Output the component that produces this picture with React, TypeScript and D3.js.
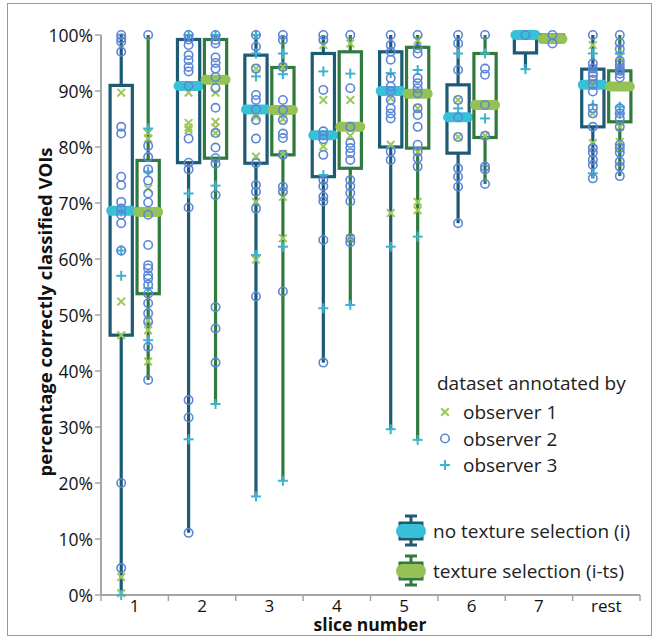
import React from "react";
import * as d3 from "d3";

// slice categories on the x axis
const categories = ["1", "2", "3", "4", "5", "6", "7", "rest"];
const yTicks = [0, 10, 20, 30, 40, 50, 60, 70, 80, 90, 100];

// box statistics, no texture selection (i)
const iMin = [0, 11.1, 17.6, 41.5, 29.6, 66.4, 93.9, 74.4];
const iQ1 = [46.4, 77.2, 77.1, 74.7, 80.0, 78.9, 96.8, 83.6];
const iMedian = [68.6, 90.9, 86.7, 82.1, 90.0, 85.3, 100, 91.1];
const iQ3 = [91.0, 99.2, 96.4, 96.7, 97.0, 91.1, 100, 93.9];
const iMax = [100, 100, 100, 100, 100, 100, 100, 100];

// box statistics, texture selection (i-ts)
const tsMin = [38.4, 34.1, 20.4, 51.8, 27.7, 73.4, 98.5, 74.8];
const tsQ1 = [53.8, 78.0, 78.6, 76.2, 79.8, 81.7, 98.8, 84.5];
const tsMedian = [68.4, 92.0, 86.6, 83.6, 89.5, 87.5, 99.3, 90.8];
const tsQ3 = [77.6, 99.2, 94.2, 97.0, 97.8, 96.7, 100, 93.6];
const tsMax = [100, 100, 100, 100, 100, 100, 100, 100];

// single results per observer (i)
const iObs1 = [
  [89.7, 52.4, 46.4, 3.2, 0.3],
  [89.7, 84.3, 83.5, 83.0],
  [94.0, 85.4, 78.3, 70.2, 59.9],
  [98.2, 88.4, 80.1],
  [88.7, 80.4, 68.2],
  [88.4, 81.8],
  [],
  [98.2, 91.5, 86.0, 80.7],
];
const iObs2 = [
  [100, 99.4, 98.8, 97.0, 83.6, 82.4, 74.7, 73.2, 70.2, 69.0, 67.9, 66.4, 61.5, 20.0, 4.8],
  [100, 99.2, 98.2, 96.4, 95.5, 94.3, 93.5, 90.9, 81.5, 77.2, 76.0, 69.2, 34.8, 31.7, 11.1],
  [100, 97.9, 94.0, 89.3, 88.4, 86.7, 84.8, 81.5, 77.1, 73.2, 72.0, 69.0, 53.3],
  [100, 99.1, 90.2, 82.8, 82.1, 81.4, 78.6, 74.1, 73.0, 71.1, 70.3, 63.4, 41.5],
  [100, 98.2, 97.0, 95.6, 92.3, 90.8, 90.0, 88.4, 86.9, 86.0, 85.1, 79.2, 77.7],
  [100, 98.5, 93.75, 88.4, 85.3, 81.8, 76.2, 74.7, 72.9, 66.4],
  [100],
  [100, 94.9, 94.0, 93.2, 92.7, 92.0, 91.1, 89.9, 86.9, 86.0, 83.6, 79.8, 79.0, 77.7, 76.8, 74.4],
];
const iObs3 = [
  [68.5, 61.5, 57.0, 0],
  [100, 71.7, 27.8],
  [100, 96.7, 92.6, 60.7, 17.6],
  [93.5, 75.0, 51.2],
  [93.2, 62.2, 29.6],
  [96.7, 86.9],
  [93.9],
  [96.7, 87.5, 75.3],
];

// single results per observer (i-ts)
const tsObs1 = [
  [82.5, 81.5, 72.6, 49.0, 47.3, 41.7],
  [92.0, 89.7, 84.5, 83.5, 82.5],
  [94.3, 85.0, 78.8, 71.1, 63.7],
  [98.5, 88.4, 82.0, 63.7],
  [99.1, 86.9, 79.1, 70.2, 68.7],
  [87.5, 82.0],
  [],
  [96.1, 83.6, 80.9],
];
const tsObs2 = [
  [100, 80.2, 78.2, 76.0, 74.0, 71.7, 70.1, 67.9, 62.5, 58.9, 58.3, 57.1, 56.5, 55.4, 53.8, 52.1, 50.3, 48.8, 44.3, 38.4],
  [100, 99.1, 98.5, 96.0, 95.0, 94.0, 92.5, 90.5, 87.0, 82.5, 79.9, 78.0, 77.0, 71.4, 51.4, 47.6, 41.5],
  [100, 99.1, 94.3, 88.4, 86.6, 84.8, 82.4, 81.6, 78.6, 72.9, 72.0, 54.2],
  [100, 90.5, 83.6, 80.7, 79.8, 78.9, 77.7, 74.1, 73.0, 71.8, 70.3, 63.7, 63.0],
  [100, 97.6, 96.7, 92.3, 91.4, 90.5, 89.6, 86.9, 85.7, 83.6, 80.4, 79.2, 78.0, 76.5],
  [100, 94.0, 92.9, 87.5, 82.0, 76.5, 76.0, 73.4],
  [100, 98.5],
  [100, 98.6, 97.5, 95.4, 94.7, 94.0, 93.6, 93.1, 92.4, 86.9, 86.0, 85.1, 83.6, 80.4, 79.8, 79.0, 77.4, 76.5, 74.8],
];
const tsObs3 = [
  [83.3, 75.6, 54.8, 45.5],
  [100, 73.1, 34.1],
  [96.7, 93.0, 62.2, 20.4],
  [93.1, 51.8],
  [93.75, 64.0, 27.7],
  [96.7, 85.1],
  [],
  [96.7, 87.2, 86.0],
];

const observerLabels = ["observer 1", "observer 2", "observer 3"];
const groupLabels = ["no texture selection (i)", "texture selection (i-ts)"];

const W = 653;
const H = 637;
const FONT = "'Open Sans', 'Noto Sans', sans-serif";

const C_I = "#1d5b74";
const C_TS = "#2f7a3c";
const MED_I = "#38c0d8";
const MED_TS = "#95c157";
const OBS1 = "#9dc75a";
const OBS2 = "#5b86d8";
const OBS3 = "#3db3cf";

const x = d3.scaleBand().domain(categories).range([101, 640]);
const y = d3.scaleLinear().domain([0, 100]).range([595, 35]);
const bw = x.bandwidth();
const boxW = bw * 0.33;
const off = bw * 0.2;

function XMark({ cx, cy }: { cx: number; cy: number }) {
  const s = 3.8;
  return (
    <g stroke={OBS1} strokeWidth={2}>
      <line x1={cx - s} y1={cy - s} x2={cx + s} y2={cy + s} />
      <line x1={cx - s} y1={cy + s} x2={cx + s} y2={cy - s} />
    </g>
  );
}

function PlusMark({ cx, cy }: { cx: number; cy: number }) {
  const s = 5;
  return (
    <g stroke={OBS3} strokeWidth={2}>
      <line x1={cx - s} y1={cy} x2={cx + s} y2={cy} />
      <line x1={cx} y1={cy - s} x2={cx} y2={cy + s} />
    </g>
  );
}

function CircleMark({ cx, cy }: { cx: number; cy: number }) {
  return <circle cx={cx} cy={cy} r={4.2} fill="none" stroke={OBS2} strokeWidth={1.6} />;
}

function Box(props: {
  cx: number; min: number; q1: number; med: number; q3: number; max: number;
  stroke: string; medFill: string; o1: number[]; o2: number[]; o3: number[];
}) {
  const { cx, min, q1, med, q3, max, stroke, medFill, o1, o2, o3 } = props;
  const capW = 30;
  const capH = 10;
  return (
    <g>
      <line x1={cx} x2={cx} y1={y(max)} y2={y(q3)} stroke={stroke} strokeWidth={3.2} />
      <line x1={cx} x2={cx} y1={y(q1)} y2={y(min)} stroke={stroke} strokeWidth={3.2} />
      <rect x={cx - boxW / 2} y={y(q3)} width={boxW} height={Math.max(0, y(q1) - y(q3))}
        fill="white" stroke={stroke} strokeWidth={3.2} />
      <rect x={cx - capW / 2} y={y(med) - capH / 2} width={capW} height={capH} rx={capH / 2}
        fill={medFill} />
      {o1.map((v, i) => <XMark key={"a" + i} cx={cx} cy={y(v)} />)}
      {o3.map((v, i) => <PlusMark key={"c" + i} cx={cx} cy={y(v)} />)}
      {o2.map((v, i) => <CircleMark key={"b" + i} cx={cx} cy={y(v)} />)}
    </g>
  );
}

function LegendIcon({ cx, cy, stroke, fill }: { cx: number; cy: number; stroke: string; fill: string }) {
  return (
    <g>
      <line x1={cx} x2={cx} y1={cy - 15} y2={cy + 14} stroke={stroke} strokeWidth={3} />
      <line x1={cx - 6} x2={cx + 6} y1={cy - 15} y2={cy - 15} stroke={stroke} strokeWidth={3} />
      <line x1={cx - 6} x2={cx + 6} y1={cy + 14} y2={cy + 14} stroke={stroke} strokeWidth={3} />
      <rect x={cx - 11} y={cy - 8} width={22} height={16} fill="white" stroke={stroke} strokeWidth={3} />
      <rect x={cx - 15} y={cy - 7} width={30} height={14} rx={7} fill={fill} />
    </g>
  );
}

export default function App() {
  return (
    <svg width={W} height={H} style={{ position: "absolute", left: 0, top: 0, background: "white" }}
      fontFamily={FONT}>
      <rect x={7.5} y={3.5} width={644} height={632} fill="white" stroke="#999" strokeWidth={1} />

      {/* axes */}
      <line x1={101} x2={101} y1={y(100)} y2={y(0)} stroke="#a6a6a6" strokeWidth={2} />
      <line x1={100} x2={640} y1={y(0)} y2={y(0)} stroke="#a6a6a6" strokeWidth={2} />
      {yTicks.map((t) => (
        <g key={t}>
          <line x1={95} x2={101} y1={y(t)} y2={y(t)} stroke="#a6a6a6" strokeWidth={1.5} />
          <text x={93} y={y(t)} textAnchor="end" dominantBaseline="central" fontSize={17.5} fill="#111">
            {t + "%"}
          </text>
        </g>
      ))}
      {[...categories.map((c) => x(c) as number), 640].map((p, i) => (
        <line key={i} x1={p} x2={p} y1={y(0)} y2={y(0) + 6} stroke="#a6a6a6" strokeWidth={1.5} />
      ))}
      {categories.map((c) => (
        <text key={c} x={(x(c) as number) + bw / 2} y={612} textAnchor="middle" fontSize={17} fill="#111">
          {c}
        </text>
      ))}
      <text x={370} y={631} textAnchor="middle" fontSize={17.5} fontWeight="bold" fill="#111">
        slice number
      </text>
      <text transform={`translate(52,${y(50) - 3}) rotate(-90)`} textAnchor="middle" fontSize={18.5}
        fontWeight="bold" fill="#111">
        percentage correctly classified VOIs
      </text>

      {/* boxes */}
      {categories.map((c, i) => {
        const cx = (x(c) as number) + bw / 2;
        return (
          <g key={c}>
            <Box cx={cx - off} min={iMin[i]} q1={iQ1[i]} med={iMedian[i]} q3={iQ3[i]} max={iMax[i]}
              stroke={C_I} medFill={MED_I} o1={iObs1[i]} o2={iObs2[i]} o3={iObs3[i]} />
            <Box cx={cx + off} min={tsMin[i]} q1={tsQ1[i]} med={tsMedian[i]} q3={tsQ3[i]} max={tsMax[i]}
              stroke={C_TS} medFill={MED_TS} o1={tsObs1[i]} o2={tsObs2[i]} o3={tsObs3[i]} />
          </g>
        );
      })}

      {/* legend: observers */}
      <text x={437} y={390} fontSize={19} fill="#222">dataset annotated by</text>
      {observerLabels.map((l, i) => {
        const cy = 412 + i * 26.5;
        return (
          <g key={l}>
            {i === 0 && <XMark cx={445} cy={cy} />}
            {i === 1 && <CircleMark cx={445} cy={cy} />}
            {i === 2 && <PlusMark cx={445} cy={cy} />}
            <text x={463} y={cy} dominantBaseline="central" fontSize={19} fill="#222">{l}</text>
          </g>
        );
      })}

      {/* legend: groups */}
      {groupLabels.map((l, i) => {
        const cy = 531 + i * 40;
        return (
          <g key={l}>
            <LegendIcon cx={411} cy={cy} stroke={i === 0 ? C_I : C_TS} fill={i === 0 ? MED_I : MED_TS} />
            <text x={433} y={cy} dominantBaseline="central" fontSize={19} fill="#222">{l}</text>
          </g>
        );
      })}
    </svg>
  );
}
